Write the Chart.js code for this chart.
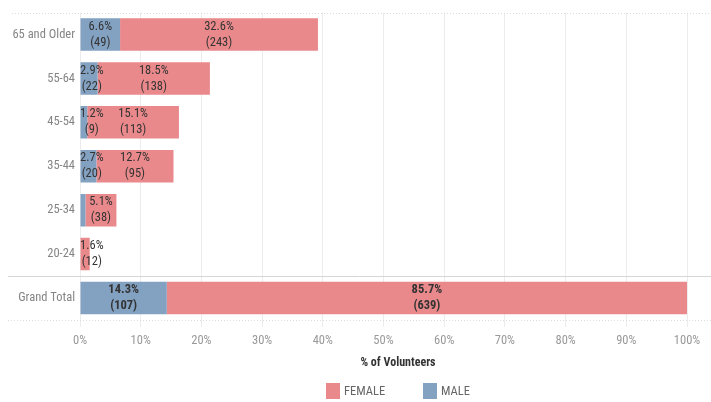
<!DOCTYPE html>
<html>
<head>
<meta charset="utf-8">
<script src="https://cdn.jsdelivr.net/npm/chart.js@4.4.1/dist/chart.umd.min.js"></script>
<style>
  body { margin: 0; background: #fff; }
  #wrap { width: 711px; height: 402px; position: relative; }
</style>
</head>
<body>
<div id="wrap"><canvas id="volunteerChart"></canvas></div>
<script>
// Volunteers by age group and gender
const categories = ['65 and Older', '55-64', '45-54', '35-44', '25-34', '20-24', 'Grand Total'];
const malePct = [6.6, 2.9, 1.2, 2.7, 0.9, 0, 14.3];
const femalePct = [32.6, 18.5, 15.1, 12.7, 5.1, 1.6, 85.7];
const maleCount = [49, 22, 9, 20, 7, 0, 107];
const femaleCount = [243, 138, 113, 95, 38, 12, 639];
const xTickValues = [0, 10, 20, 30, 40, 50, 60, 70, 80, 90, 100];

const FONT = "'Roboto Condensed', 'DejaVu Sans Condensed', sans-serif";
const FEMALE_COLOR = 'rgb(234, 137, 139)';
const MALE_COLOR = 'rgb(131, 161, 193)';

// Horizontal rules: top, separator before Grand Total, bottom
const rulesPlugin = {
    id: 'rules',
    beforeDatasetsDraw(chart) {
        const { ctx, chartArea, scales } = chart;
        const y = scales.y;
        const sepY = (y.getPixelForValue(5) + y.getPixelForValue(6)) / 2;
        ctx.save();
        ctx.lineWidth = 1;
        ctx.strokeStyle = '#dcdcdc';
        ctx.setLineDash([1, 2]);
        ctx.beginPath();
        ctx.moveTo(12, Math.round(chartArea.top) + 0.5);
        ctx.lineTo(711, Math.round(chartArea.top) + 0.5);
        ctx.moveTo(8, Math.round(chartArea.bottom) + 0.5);
        ctx.lineTo(711, Math.round(chartArea.bottom) + 0.5);
        ctx.stroke();
        ctx.setLineDash([]);
        ctx.strokeStyle = '#d6d6d6';
        ctx.beginPath();
        ctx.moveTo(8, Math.round(sepY) + 0.5);
        ctx.lineTo(711, Math.round(sepY) + 0.5);
        ctx.stroke();
        ctx.restore();
    }
};

// Two-line labels inside each segment
const labelsPlugin = {
    id: 'segLabels',
    afterDatasetsDraw(chart) {
        const { ctx, chartArea } = chart;
        ctx.save();
        ctx.fillStyle = '#333';
        ctx.textAlign = 'center';
        ctx.textBaseline = 'middle';
        chart.data.datasets.forEach((ds, di) => {
            const meta = chart.getDatasetMeta(di);
            meta.data.forEach((bar, i) => {
                const pct = ds.data[i];
                if (pct < 1) return;
                const bold = i === categories.length - 1;
                ctx.font = (bold ? 'bold ' : '') + '12.5px ' + FONT;
                const line1 = pct.toFixed(1) + '%';
                const line2 = '(' + ds.counts[i] + ')';
                const w = Math.max(ctx.measureText(line1).width, ctx.measureText(line2).width);
                let cx = (bar.x + bar.base) / 2;
                cx = Math.max(cx, chartArea.left + w / 2);
                ctx.fillText(line1, cx, bar.y - 8);
                ctx.fillText(line2, cx, bar.y + 8);
            });
        });
        ctx.restore();
    }
};

// Axis title and legend, drawn like the original view
const footerPlugin = {
    id: 'footer',
    afterDraw(chart) {
        const { ctx } = chart;
        ctx.save();
        ctx.textBaseline = 'middle';
        ctx.textAlign = 'center';
        ctx.fillStyle = '#333';
        ctx.font = 'bold 12px ' + FONT;
        ctx.fillText('% of Volunteers', 398, 363);

        const items = [
            { label: 'FEMALE', color: FEMALE_COLOR, x: 326 },
            { label: 'MALE', color: MALE_COLOR, x: 423 }
        ];
        ctx.textAlign = 'left';
        ctx.font = '12.5px ' + FONT;
        items.forEach(it => {
            ctx.fillStyle = it.color;
            ctx.fillRect(it.x, 383, 14, 16);
            ctx.fillStyle = '#666';
            ctx.fillText(it.label, it.x + 18, 392);
        });
        ctx.restore();
    }
};

new Chart(document.getElementById('volunteerChart'), {
    type: 'bar',
    data: {
        labels: categories,
        datasets: [
            {
                label: 'MALE',
                data: malePct,
                counts: maleCount,
                backgroundColor: MALE_COLOR,
                categoryPercentage: 1,
                barPercentage: 0.74
            },
            {
                label: 'FEMALE',
                data: femalePct,
                counts: femaleCount,
                backgroundColor: FEMALE_COLOR,
                categoryPercentage: 1,
                barPercentage: 0.74
            }
        ]
    },
    options: {
        indexAxis: 'y',
        responsive: true,
        maintainAspectRatio: false,
        animation: false,
        layout: { padding: { top: 6, right: 24, left: 0, bottom: 0 } },
        plugins: {
            legend: { display: false },
            tooltip: { enabled: false }
        },
        scales: {
            x: {
                stacked: true,
                min: 0,
                max: 100,
                afterBuildTicks: s => { s.ticks = xTickValues.map(v => ({ value: v })); },
                afterFit: s => { s.height = 82; },
                border: { display: false },
                grid: { color: '#ececec', tickLength: 7 },
                ticks: {
                    callback: v => v + '%',
                    color: '#999',
                    padding: 6,
                    maxRotation: 0,
                    font: { family: FONT, size: 12.5 }
                }
            },
            y: {
                stacked: true,
                afterFit: s => { s.width = 80; },
                border: { display: false },
                grid: { display: false, drawTicks: false },
                ticks: {
                    color: '#858585',
                    padding: 5,
                    font: { family: FONT, size: 12.5 }
                }
            }
        }
    },
    plugins: [rulesPlugin, labelsPlugin, footerPlugin]
});
</script>
</body>
</html>
